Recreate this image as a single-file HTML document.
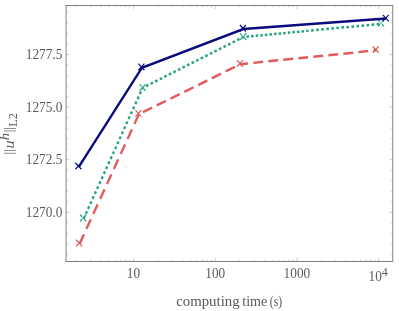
<!DOCTYPE html>
<html><head><meta charset="utf-8"><title>plot</title>
<style>html,body{margin:0;padding:0;background:#fff;overflow:hidden}svg{display:block;filter:blur(0.4px)}text{font-family:"Liberation Serif",serif;fill:#585858}</style>
</head><body>
<svg width="399" height="311" viewBox="0 0 399 311">
<rect x="0" y="0" width="399" height="311" fill="#fff"/>
<g transform="scale(1 1.087)">
<path d="M66.07 234.02h1.9M392.74 234.02h-1.9M66.07 224.34h1.9M392.74 224.34h-1.9M66.07 214.66h1.9M392.74 214.66h-1.9M66.07 204.99h1.9M392.74 204.99h-1.9M66.07 195.31h3.6M392.74 195.31h-3.6M66.07 185.63h1.9M392.74 185.63h-1.9M66.07 175.95h1.9M392.74 175.95h-1.9M66.07 166.27h1.9M392.74 166.27h-1.9M66.07 156.60h1.9M392.74 156.60h-1.9M66.07 146.92h3.6M392.74 146.92h-3.6M66.07 137.24h1.9M392.74 137.24h-1.9M66.07 127.56h1.9M392.74 127.56h-1.9M66.07 117.88h1.9M392.74 117.88h-1.9M66.07 108.21h1.9M392.74 108.21h-1.9M66.07 98.53h3.6M392.74 98.53h-3.6M66.07 88.85h1.9M392.74 88.85h-1.9M66.07 79.17h1.9M392.74 79.17h-1.9M66.07 69.49h1.9M392.74 69.49h-1.9M66.07 59.82h1.9M392.74 59.82h-1.9M66.07 50.14h3.6M392.74 50.14h-3.6M66.07 40.46h1.9M392.74 40.46h-1.9M66.07 30.78h1.9M392.74 30.78h-1.9M66.07 21.10h1.9M392.74 21.10h-1.9M66.07 11.43h1.9M392.74 11.43h-1.9M76.39 240.57v-1.66M76.39 5.06v1.66M90.78 240.57v-1.66M90.78 5.06v1.66M100.99 240.57v-1.66M100.99 5.06v1.66M108.91 240.57v-1.66M108.91 5.06v1.66M115.37 240.57v-1.66M115.37 5.06v1.66M120.84 240.57v-1.66M120.84 5.06v1.66M125.58 240.57v-1.66M125.58 5.06v1.66M129.76 240.57v-1.66M129.76 5.06v1.66M133.50 240.57v-3.22M133.50 5.06v3.22M158.09 240.57v-1.66M158.09 5.06v1.66M172.48 240.57v-1.66M172.48 5.06v1.66M182.69 240.57v-1.66M182.69 5.06v1.66M190.61 240.57v-1.66M190.61 5.06v1.66M197.07 240.57v-1.66M197.07 5.06v1.66M202.54 240.57v-1.66M202.54 5.06v1.66M207.28 240.57v-1.66M207.28 5.06v1.66M211.46 240.57v-1.66M211.46 5.06v1.66M215.20 240.57v-3.22M215.20 5.06v3.22M239.79 240.57v-1.66M239.79 5.06v1.66M254.18 240.57v-1.66M254.18 5.06v1.66M264.39 240.57v-1.66M264.39 5.06v1.66M272.31 240.57v-1.66M272.31 5.06v1.66M278.77 240.57v-1.66M278.77 5.06v1.66M284.24 240.57v-1.66M284.24 5.06v1.66M288.98 240.57v-1.66M288.98 5.06v1.66M293.16 240.57v-1.66M293.16 5.06v1.66M296.90 240.57v-3.22M296.90 5.06v3.22M321.49 240.57v-1.66M321.49 5.06v1.66M335.88 240.57v-1.66M335.88 5.06v1.66M346.09 240.57v-1.66M346.09 5.06v1.66M354.01 240.57v-1.66M354.01 5.06v1.66M360.47 240.57v-1.66M360.47 5.06v1.66M365.94 240.57v-1.66M365.94 5.06v1.66M370.68 240.57v-1.66M370.68 5.06v1.66M374.86 240.57v-1.66M374.86 5.06v1.66M378.60 240.57v-3.22M378.60 5.06v3.22" stroke="#adadad" stroke-width="0.55" fill="none"/>
<path d="M65.66999999999999 5.06H393.14M65.66999999999999 240.57H393.14" fill="none" stroke="#6e6e6e" stroke-width="0.85"/>
<path d="M66.07 5.06V240.57M392.74 5.06V240.57" fill="none" stroke="#6e6e6e" stroke-width="0.82"/>
<polyline points="79.60,224.38 138.90,105.06" fill="none" stroke="#e05c5c" stroke-width="2.3" stroke-dasharray="9.8 5.6" stroke-dashoffset="0"/>
<polyline points="138.90,105.06 240.40,59.06" fill="none" stroke="#e05c5c" stroke-width="2.3" stroke-dasharray="10.1 5.05" stroke-dashoffset="10.75"/>
<polyline points="240.40,59.06 376.20,46.27" fill="none" stroke="#e05c5c" stroke-width="2.3" stroke-dasharray="9.9 5.17" stroke-dashoffset="2.1"/>
<path d="M76.10 220.64l6.0 6.0M76.10 226.64l6.0 -6.0M135.40 101.32l6.0 6.0M135.40 107.32l6.0 -6.0M236.90 55.33l6.0 6.0M236.90 61.33l6.0 -6.0M372.70 42.54l6.0 6.0M372.70 48.54l6.0 -6.0" stroke="#e05c5c" stroke-width="1.2" fill="none"/>
<polyline points="83.60,201.29 142.70,80.77" fill="none" stroke="#21a381" stroke-width="2.3" stroke-dasharray="2.6 2.51" stroke-dashoffset="0"/>
<polyline points="142.70,80.77 243.45,34.04" fill="none" stroke="#21a381" stroke-width="2.3" stroke-dasharray="2.6 2.42" stroke-dashoffset="1.3"/>
<polyline points="243.45,34.04 307.40,28.40" fill="none" stroke="#21a381" stroke-width="2.3" stroke-dasharray="2.5 2.1" stroke-dashoffset="1.5"/>
<polyline points="307.40,28.40 381.20,21.90" fill="none" stroke="#21a381" stroke-width="2.3" stroke-dasharray="2.6 2.46" stroke-dashoffset="1.3"/>
<path d="M80.10 197.55l6.0 6.0M80.10 203.55l6.0 -6.0M139.60 77.59l6.0 6.0M139.60 83.59l6.0 -6.0M240.20 30.67l6.0 6.0M240.20 36.67l6.0 -6.0M378.00 18.07l6.0 6.0M378.00 24.07l6.0 -6.0" stroke="#21a381" stroke-width="0.55" fill="none"/>
<path d="M80.10 197.55l6.0 6.0M80.10 203.55l6.0 -6.0M139.60 77.59l6.0 6.0M139.60 83.59l6.0 -6.0M240.20 30.67l6.0 6.0M240.20 36.67l6.0 -6.0M378.00 18.07l6.0 6.0M378.00 24.07l6.0 -6.0" stroke="#21a381" stroke-width="1.2" fill="none" stroke-dasharray="2.6 3.3"/>
<polyline points="78.90,153.45 141.90,62.28 243.40,26.77 386.00,17.02" fill="none" stroke="#0b0b80" stroke-width="2.3" stroke-linejoin="miter"/>
<path d="M75.40 149.71l6.0 6.0M75.40 155.71l6.0 -6.0M138.40 58.55l6.0 6.0M138.40 64.55l6.0 -6.0M239.90 23.03l6.0 6.0M239.90 29.03l6.0 -6.0M382.80 13.65l6.0 6.0M382.80 19.65l6.0 -6.0" stroke="#0b0b80" stroke-width="1.2" fill="none"/>
<text x="62.4" y="199.54" font-size="12.8" text-anchor="end" textLength="36.6" lengthAdjust="spacingAndGlyphs">1270.0</text>
<text x="62.4" y="151.15" font-size="12.8" text-anchor="end" textLength="36.6" lengthAdjust="spacingAndGlyphs">1272.5</text>
<text x="62.4" y="102.76" font-size="12.8" text-anchor="end" textLength="36.6" lengthAdjust="spacingAndGlyphs">1275.0</text>
<text x="62.4" y="54.37" font-size="12.8" text-anchor="end" textLength="36.6" lengthAdjust="spacingAndGlyphs">1277.5</text>
<text x="133.50" y="256.03" font-size="12.8" text-anchor="middle" textLength="13.3" lengthAdjust="spacingAndGlyphs">10</text>
<text x="215.20" y="256.03" font-size="12.8" text-anchor="middle" textLength="19.9" lengthAdjust="spacingAndGlyphs">100</text>
<text x="296.90" y="256.03" font-size="12.8" text-anchor="middle" textLength="26.6" lengthAdjust="spacingAndGlyphs">1000</text>
<text x="368.50" y="258.79" font-size="12.8" textLength="13.3" lengthAdjust="spacingAndGlyphs">10</text>
<text x="381.80" y="254.28" font-size="12.1">4</text>
<text x="176.2" y="281.23" font-size="14" textLength="63.4" lengthAdjust="spacingAndGlyphs">computing</text>
<text x="242.3" y="281.23" font-size="14" textLength="25" lengthAdjust="spacingAndGlyphs">time</text>
<text x="269.8" y="281.23" font-size="14" textLength="12.2" lengthAdjust="spacingAndGlyphs">(s)</text>
<g transform="translate(13.9 141.86) rotate(-90)">
<text x="-0.39" y="-0.55" font-size="11.9">|</text>
<text x="2.17" y="-0.55" font-size="11.9">|</text>
<text x="20.17" y="-0.55" font-size="11.9">|</text>
<text x="22.57" y="-0.55" font-size="11.9">|</text>
<text x="5.2" y="0" font-size="14.8" font-style="italic">u</text>
<text x="12.9" y="-4.8" font-size="13.3" font-style="italic">h</text>
<text x="25.2" y="3.2" font-size="12.6" textLength="12.6" lengthAdjust="spacingAndGlyphs">L2</text>
</g>
</g>
</svg></body></html>
